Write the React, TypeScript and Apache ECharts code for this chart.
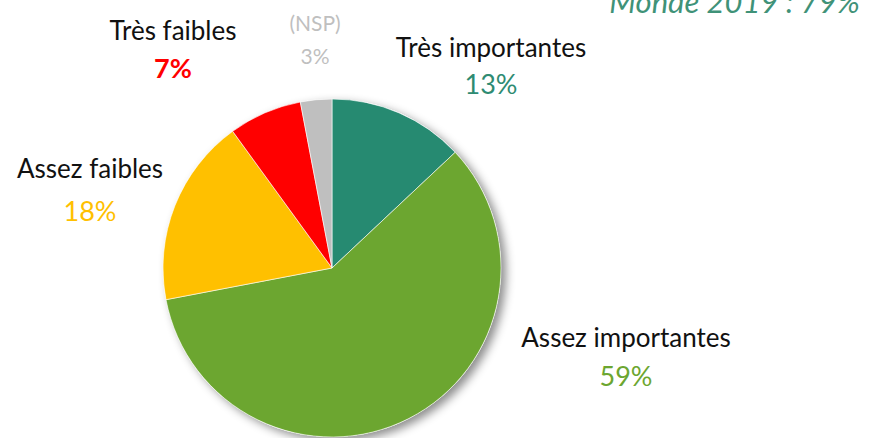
import React, { useEffect, useRef } from "react";
import * as echarts from "echarts";

const categories = ["Très importantes", "Assez importantes", "Assez faibles", "Très faibles", "(NSP)"];
const values = [13, 59, 18, 7, 3];
const sliceColors = ["#268A71", "#6CA630", "#FFC000", "#FF0000", "#BFBFBF"];
const valueColors = ["#2E8B72", "#6CA630", "#FFC000", "#FF0000", "#BFBFBF"];
const nameColors = ["#111111", "#111111", "#111111", "#111111", "#BFBFBF"];
// [centre x, name centre y, value centre y]
const labelPos: [number, number, number][] = [
  [491, 47, 83],
  [626, 337, 375],
  [90, 168, 210],
  [173, 30, 67],
  [315, 22, 55],
];
const noteText = "Monde 2019 : 79%*";

export default function App() {
  const ref = useRef<HTMLDivElement>(null);
  useEffect(() => {
    document.body.style.margin = "0";
    const chart = echarts.init(ref.current!, undefined, { renderer: "svg" });
    const font = "Lato, 'Open Sans', sans-serif";
    const labels = categories.flatMap((c, i) => {
      const [x, yn, yv] = labelPos[i];
      const nsp = i === 4;
      return [
        {
          type: "text",
          x,
          y: yn,
          style: {
            text: c,
            fontFamily: font,
            fontSize: nsp ? 21 : 26,
            fontWeight: 400,
            fill: nameColors[i],
            align: "center",
            verticalAlign: "middle",
          },
        },
        {
          type: "text",
          x,
          y: yv,
          style: {
            text: `${values[i]}%`,
            fontFamily: font,
            fontSize: nsp ? 21 : 27,
            fontWeight: i === 3 ? "bold" : 400,
            fill: valueColors[i],
            align: "center",
            verticalAlign: "middle",
          },
        },
      ];
    });
    chart.setOption({
      animation: false,
      backgroundColor: "#ffffff",
      graphic: [
        {
          type: "text",
          x: 872,
          y: 16,
          style: {
            text: noteText,
            fontFamily: font,
            fontStyle: "italic",
            fontWeight: 400,
            fontSize: 31,
            fill: "#3F9278",
            align: "right",
            verticalAlign: "bottom",
          },
        },
        ...labels,
      ],
      series: [
        {
          type: "pie",
          silent: true,
          center: [332, 268],
          radius: 169,
          z: 1,
          label: { show: false },
          labelLine: { show: false },
          itemStyle: {
            color: "#ffffff",
            shadowBlur: 10,
            shadowOffsetX: 5,
            shadowOffsetY: 4,
            shadowColor: "rgba(0,0,0,0.45)",
          },
          data: [{ value: values.reduce((a, b) => a + b, 0), name: "" }],
        },
        {
          type: "pie",
          center: [332, 268],
          radius: 169,
          startAngle: 90,
          clockwise: true,
          z: 2,
          itemStyle: { borderColor: "#ffffff", borderWidth: 0.6 },
          label: { show: false },
          labelLine: { show: false },
          data: categories.map((c, i) => ({
            name: c,
            value: values[i],
            itemStyle: { color: sliceColors[i] },
          })),
        },
      ],
    });
    return () => chart.dispose();
  }, []);
  return <div ref={ref} style={{ width: 869, height: 438 }} />;
}
